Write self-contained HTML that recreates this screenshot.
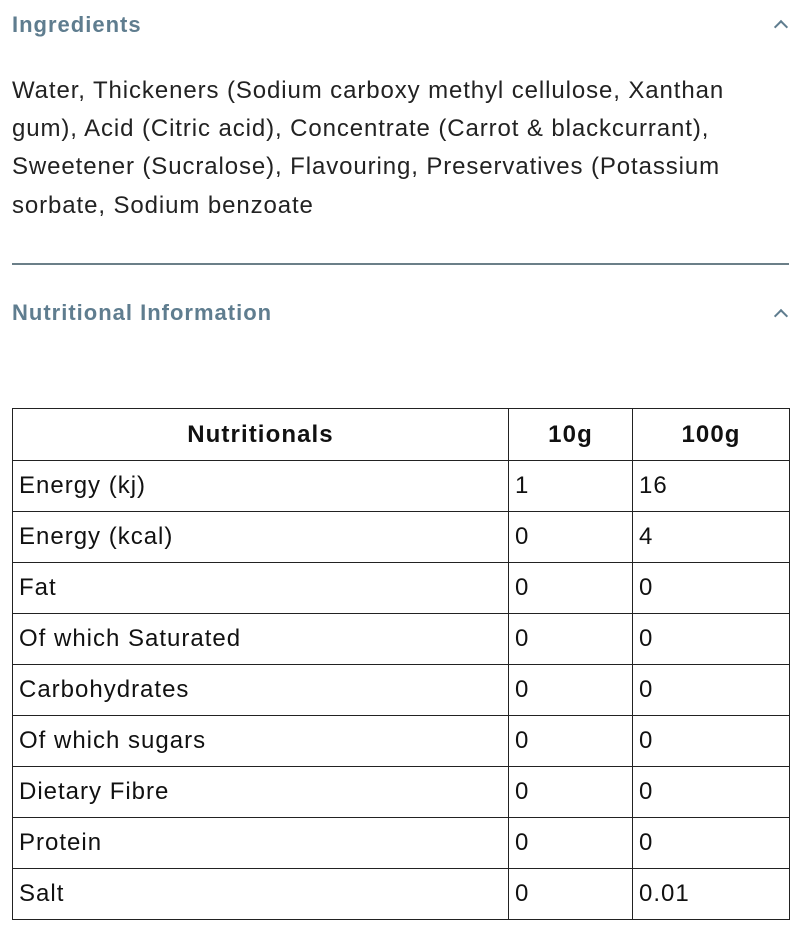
<!DOCTYPE html>
<html><head><meta charset="utf-8"><style>
html,body{margin:0;padding:0;background:#fff;width:810px;height:939px;overflow:hidden}
body{font-family:"Liberation Sans",sans-serif;position:relative}
.h{position:absolute;left:12px;font-weight:bold;font-size:22px;color:#5f7d8f;letter-spacing:1px}
.chev{position:absolute;left:776px;width:8px;height:8px;border-left:2px solid #5f7d8f;border-top:2px solid #5f7d8f;transform:rotate(45deg)}
.p{position:absolute;left:12px;font-size:24px;color:#222;white-space:nowrap;letter-spacing:0.9px}
.hr{position:absolute;left:12px;width:777px;top:263px;height:2px;background:#6b7f88}
table{position:absolute;left:12px;top:408px;width:778px;border-collapse:collapse;font-size:24px;color:#111;letter-spacing:1px}
td,th{border:1px solid #222;padding:0 0 0 6px;text-align:left;height:50px;font-weight:normal}
th{font-weight:bold;text-align:center;padding:0;height:51px;letter-spacing:1.1px}
</style></head><body>
<div class="h" style="top:12px">Ingredients</div><div class="chev" style="top:22px"></div>
<div class="p" style="top:77px">Water, Thickeners (Sodium carboxy methyl cellulose, Xanthan</div>
<div class="p" style="top:115px">gum), Acid (Citric acid), Concentrate (Carrot &amp; blackcurrant),</div>
<div class="p" style="top:153px">Sweetener (Sucralose), Flavouring, Preservatives (Potassium</div>
<div class="p" style="top:192px">sorbate, Sodium benzoate</div>
<div class="hr"></div>
<div class="h" style="top:300px">Nutritional Information</div><div class="chev" style="top:311px"></div>
<table>
<tr><th style="width:495px">Nutritionals</th><th style="width:123px">10g</th><th>100g</th></tr>
<tr><td>Energy (kj)</td><td>1</td><td>16</td></tr>
<tr><td>Energy (kcal)</td><td>0</td><td>4</td></tr>
<tr><td>Fat</td><td>0</td><td>0</td></tr>
<tr><td>Of which Saturated</td><td>0</td><td>0</td></tr>
<tr><td>Carbohydrates</td><td>0</td><td>0</td></tr>
<tr><td>Of which sugars</td><td>0</td><td>0</td></tr>
<tr><td>Dietary Fibre</td><td>0</td><td>0</td></tr>
<tr><td>Protein</td><td>0</td><td>0</td></tr>
<tr><td>Salt</td><td>0</td><td>0.01</td></tr>
</table>
</body></html>
